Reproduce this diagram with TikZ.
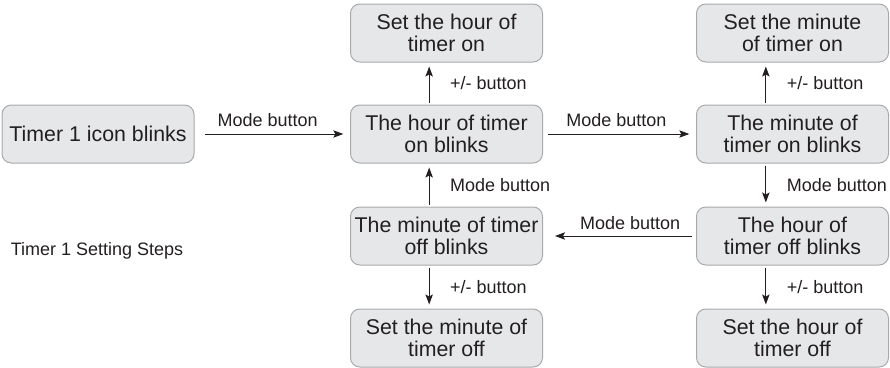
\documentclass[tikz,border=0pt]{standalone}
\usepackage{fontspec}
\setmainfont{Liberation Sans}
\usetikzlibrary{positioning, arrows.meta}

\definecolor{boxfill}{RGB}{230,231,232}
\definecolor{boxline}{RGB}{167,169,172}
\definecolor{ink}{RGB}{35,31,32}

\tikzset{
    stepbox/.style={draw=boxline, fill=boxfill, line width=0.75pt, rounded corners=7pt,
        minimum width=144pt, minimum height=43.5pt, inner sep=1pt, align=center,
        text=ink, font=\fontsize{16}{17}\selectfont},
    lbl/.style={text=ink, font=\fontsize{13.5}{16}\selectfont},
    link/.style={-{Stealth[length=7.5pt, width=5.5pt, inset=1.5pt]}, line width=0.75pt, draw=ink}
}

\begin{document}
\begin{tikzpicture}[x=0.75pt, y=-0.75pt]
    \useasboundingbox (0,0) rectangle (890,368);

    % Main row
    \node[stepbox] (idle) at (98,134) {Timer 1 icon blinks};
    \node[stepbox] (hon) at (446.5,134) {The hour of timer\\on blinks};
    \node[stepbox] (mon) at (792.5,134) {The minute of\\timer on blinks};

    % Second row
    \node[stepbox] (moff) at (446.5,236) {The minute of timer\\off blinks};
    \node[stepbox] (hoff) at (792.5,236) {The hour of\\timer off blinks};

    % Setting boxes
    \node[stepbox] (hset) at (446.5,33) {Set the hour of\\timer on};
    \node[stepbox] (mset) at (792.5,33) {Set the minute\\of timer on};
    \node[stepbox] (moffset) at (446.5,338) {Set the minute of\\timer off};
    \node[stepbox] (hoffset) at (792.5,338) {Set the hour of\\timer off};

    % Caption
    \node[lbl, anchor=base] (title) at (97,255) {Timer 1 Setting Steps};

    % Mode button arrows
    \draw[link, shorten <=8pt, shorten >=5pt] (idle) -- (hon)
        node[pos=0.47, above=2pt, lbl] {Mode button};
    \draw[link, shorten <=4pt, shorten >=5pt] (hon) -- (mon)
        node[pos=0.48, above=2pt, lbl] {Mode button};
    \draw[link, shorten <=1.5pt, shorten >=3pt] ([xshift=-20pt]mon.south) -- ([xshift=-20pt]hoff.north)
        node[midway, right=12pt, lbl] {Mode button};
    \draw[link, shorten <=3pt, shorten >=9pt] (hoff) -- (moff)
        node[pos=0.43, above=1pt, lbl] {Mode button};
    \draw[link, shorten <=1.5pt, shorten >=3pt] ([xshift=-13pt]moff.north) -- ([xshift=-13pt]hon.south)
        node[midway, right=12pt, lbl] {Mode button};

    % +/- button arrows
    \draw[link, shorten <=1.5pt, shorten >=3pt] ([xshift=-13pt]hon.north) -- ([xshift=-13pt]hset.south)
        node[midway, right=12pt, lbl] {+/- button};
    \draw[link, shorten <=1.5pt, shorten >=3pt] ([xshift=-20pt]mon.north) -- ([xshift=-20pt]mset.south)
        node[midway, right=12pt, lbl] {+/- button};
    \draw[link, shorten <=1.5pt, shorten >=3pt] ([xshift=-13pt]moff.south) -- ([xshift=-13pt]moffset.north)
        node[midway, right=12pt, lbl] {+/- button};
    \draw[link, shorten <=1.5pt, shorten >=3pt] ([xshift=-20pt]hoff.south) -- ([xshift=-20pt]hoffset.north)
        node[midway, right=12pt, lbl] {+/- button};
\end{tikzpicture}
\end{document}
